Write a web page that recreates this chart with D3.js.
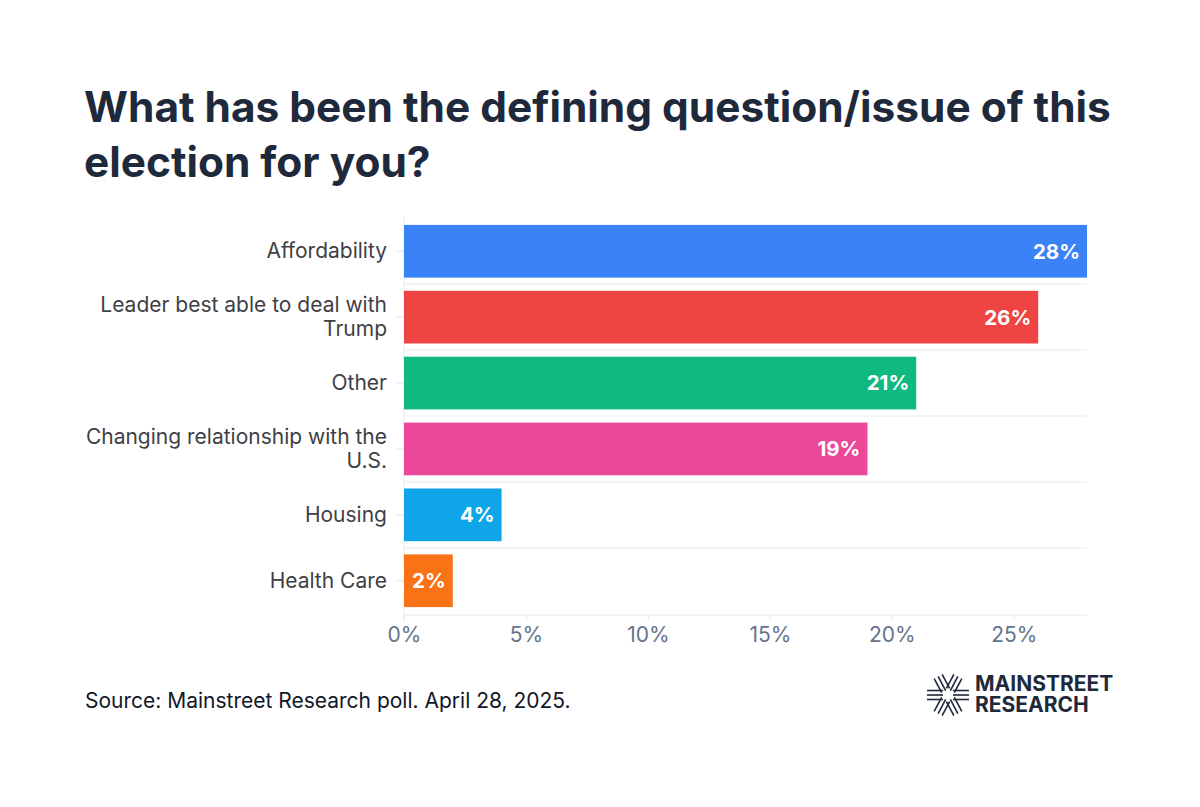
<!DOCTYPE html>
<html>
<head>
<meta charset="utf-8">
<script src="https://cdn.jsdelivr.net/npm/d3@7"></script>
<style>
  html, body { margin: 0; padding: 0; background: #fff; }
  svg { display: block; font-family: Inter, "Noto Sans", sans-serif; }
</style>
</head>
<body>
<div id="chart"></div>
<script>
'use strict';

// data
var categories = ["Affordability", "Leader best able to deal with Trump", "Other",
    "Changing relationship with the U.S.", "Housing", "Health Care"];
var values = [28, 26, 21, 19, 4, 2];
var colors = ["#3b82f6", "#ef4444", "#10b981", "#ec4899", "#0ea5e9", "#f97316"];
var xTicks = [0, 5, 10, 15, 20, 25];

var W = 1200, H = 807;
var margin = {left: 404, right: 113, top: 217, bottom: 192};

var svg = d3.select("#chart").append("svg")
    .attr("width", W)
    .attr("height", H);

// title
var title = svg.append("text")
    .style("font-size", "42.4px")
    .style("font-weight", 700)
    .style("fill", "#1e293b");
title.append("tspan").attr("x", 84).attr("y", 122).text("What has been the defining question/issue of this");
title.append("tspan").attr("x", 84).attr("y", 177).text("election for you?");

var x = d3.scaleLinear()
    .domain([0, 28])
    .range([margin.left, W - margin.right]);

var y = d3.scaleBand()
    .domain(categories)
    .range([margin.top, H - margin.bottom])
    .paddingInner(0.2)
    .paddingOuter(0.12);

var step = y.step();

// horizontal grid lines below each band
svg.append("g")
    .selectAll("line")
    .data(categories)
    .join("line")
    .attr("x1", x(0))
    .attr("x2", x(28))
    .attr("y1", function(d, i) { return i === categories.length - 1 ? H - margin.bottom : y(d) + y.bandwidth() + step * 0.1; })
    .attr("y2", function(d, i) { return i === categories.length - 1 ? H - margin.bottom : y(d) + y.bandwidth() + step * 0.1; })
    .style("stroke", "#eef1f6")
    .style("stroke-width", 1.5);

// vertical axis line
svg.append("line")
    .attr("x1", x(0)).attr("x2", x(0))
    .attr("y1", margin.top).attr("y2", H - margin.bottom + 6)
    .style("stroke", "#eceff4")
    .style("stroke-width", 1.5);

// bars
svg.append("g")
    .selectAll("rect")
    .data(values)
    .join("rect")
    .attr("x", x(0))
    .attr("y", function(d, i) { return y(categories[i]); })
    .attr("width", function(d) { return x(d) - x(0); })
    .attr("height", y.bandwidth())
    .style("fill", function(d, i) { return colors[i]; });

// value labels
svg.append("g")
    .selectAll("text")
    .data(values)
    .join("text")
    .attr("x", function(d) { return x(d) - 7; })
    .attr("y", function(d, i) { return y(categories[i]) + y.bandwidth() / 2; })
    .attr("dy", "0.36em")
    .attr("text-anchor", "end")
    .style("font-size", "20.5px")
    .style("font-weight", 700)
    .style("fill", "#fff")
    .text(function(d) { return d + "%"; });

// x axis
var xAxis = svg.append("g")
    .attr("transform", "translate(0," + (H - margin.bottom) + ")")
    .call(d3.axisBottom(x).tickValues(xTicks).tickSize(6).tickPadding(6)
        .tickFormat(function(d) { return d + "%"; }));
xAxis.select(".domain").remove();
xAxis.selectAll("line").style("stroke", "#eceff4").style("stroke-width", 1.5);
xAxis.selectAll("text")
    .style("font-size", "21px")
    .style("font-family", "Inter, sans-serif")
    .style("fill", "#64748b");

// y axis
var yAxis = svg.append("g")
    .attr("transform", "translate(" + x(0) + ",0)")
    .call(d3.axisLeft(y).tickSize(9).tickPadding(8));
yAxis.select(".domain").remove();
yAxis.selectAll("line").style("stroke", "#eceff4").style("stroke-width", 1.5);
yAxis.selectAll("text")
    .style("font-size", "21px")
    .style("font-family", "Inter, sans-serif")
    .style("fill", "#3f3f46")
    .call(wrap, 320);

function wrap(texts, width) {
    texts.each(function() {
        var text = d3.select(this);
        var words = text.text().split(/\s+/);
        var lines = [], line = [];
        text.text(null);
        var probe = text.append("tspan");
        words.forEach(function(w) {
            line.push(w);
            probe.text(line.join(" "));
            if (probe.node().getComputedTextLength() > width && line.length > 1) {
                line.pop();
                lines.push(line.join(" "));
                line = [w];
            }
        });
        lines.push(line.join(" "));
        probe.remove();
        var lh = 24;
        var x0 = text.attr("x");
        lines.forEach(function(l, i) {
            text.append("tspan")
                .attr("x", x0)
                .attr("dy", i === 0 ? (0.34 - (lines.length - 1) * 0.5 * lh / 21) + "em" : lh + "px")
                .text(l);
        });
        text.attr("dy", null);
    });
}

// source
svg.append("text")
    .attr("x", 85)
    .attr("y", 708)
    .style("font-size", "21px")
    .style("fill", "#111827")
    .text("Source: Mainstreet Research poll. April 28, 2025.");

// logo
var logo = svg.append("g").attr("transform", "translate(948,695)");
[-62, 0, 62].forEach(function(a) {
    var g = logo.append("g").attr("transform", "rotate(" + a + ")");
    [-4.5, 0, 4.5].forEach(function(o) {
        g.append("line").attr("x1", -21).attr("x2", -5).attr("y1", o).attr("y2", o);
        g.append("line").attr("x1", 5).attr("x2", 21).attr("y1", o).attr("y2", o);
    });
});
logo.selectAll("line").style("stroke", "#1e293b").style("stroke-width", 1.6);

var logoText = svg.append("text")
    .style("font-size", "21px")
    .style("font-weight", 700)
    .style("fill", "#1e293b");
logoText.append("tspan").attr("x", 975).attr("y", 691).text("MAINSTREET");
logoText.append("tspan").attr("x", 975).attr("y", 712).text("RESEARCH");
</script>
</body>
</html>
